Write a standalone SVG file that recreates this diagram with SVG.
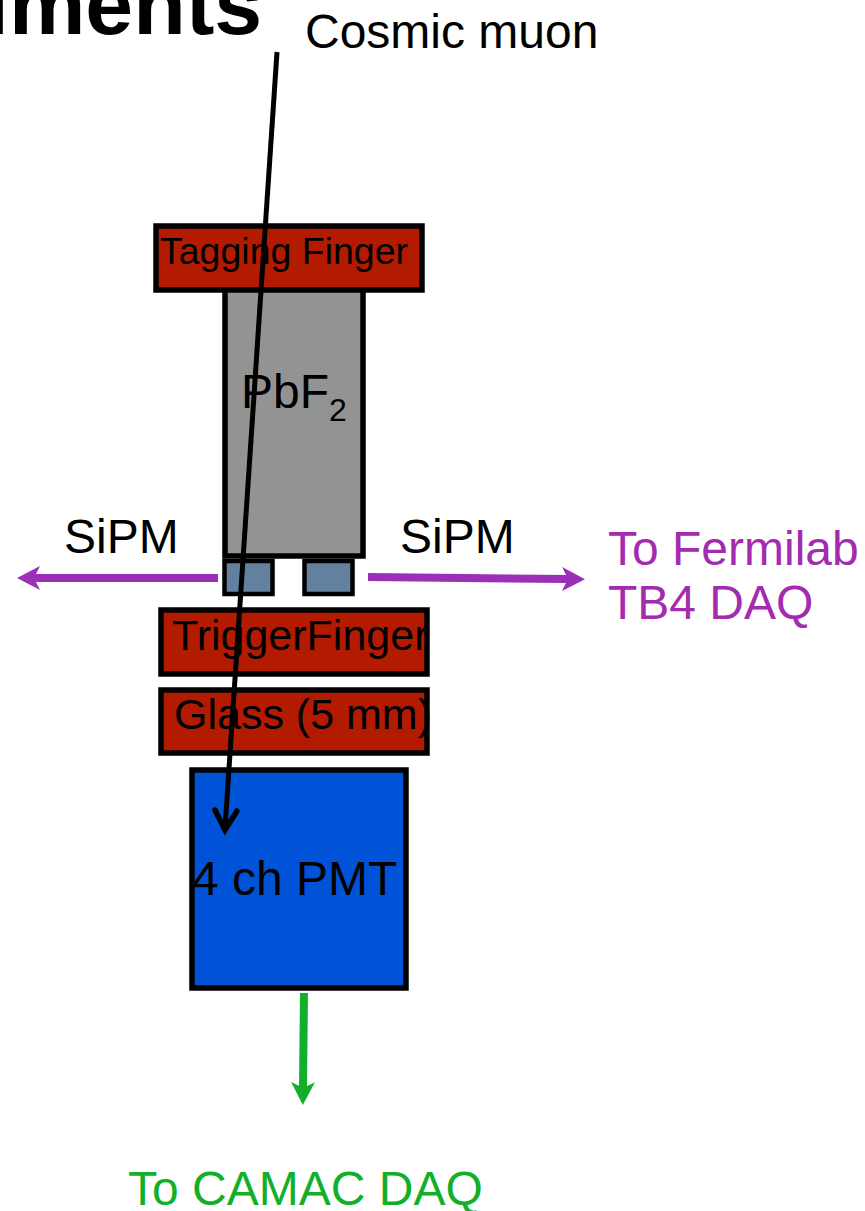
<svg xmlns="http://www.w3.org/2000/svg" width="865" height="1211" viewBox="0 0 865 1211">
<style>
text{font-family:"Liberation Sans",Arial,sans-serif;fill:#000}
.b{fill:none;stroke:#000;stroke-width:5.5}
.t{stroke-width:4.5}
.r{fill:#b31b00}
.s{fill:#64809f}
.l{font-size:48px}
.m{font-size:43px}
.p{fill:#a32bb0}
.g{fill:#12b02a}
</style>
<defs>
<marker id="ap" markerUnits="userSpaceOnUse" markerWidth="26" markerHeight="26" refX="6" refY="12" orient="auto"><path d="M0 0L23 12L0 24L6 12Z" fill="#9c2fb8"/></marker>
<marker id="ag" markerUnits="userSpaceOnUse" markerWidth="26" markerHeight="26" refX="6" refY="12" orient="auto"><path d="M0 0L23 12L0 24L6 12Z" fill="#12b02a"/></marker>
</defs>
<rect width="865" height="1211" fill="#fff"/>
<text x="-15" y="34" style="font-size:86px;font-weight:bold">iments</text>
<text x="305" y="48" class="l">Cosmic muon</text>
<g id="pbf2"><rect x="225" y="285" width="138" height="271" fill="#939393"/><rect class="b" x="225" y="285" width="138" height="271"/><text x="241" y="408" class="l">PbF<tspan font-size="32" dy="13">2</tspan></text></g>
<g id="tagging"><rect class="r" x="156" y="226" width="266" height="64"/><text x="160" y="264" style="font-size:37.5px">Tagging Finger</text><rect class="b" x="156" y="226" width="266" height="64"/></g>
<g id="sipm1"><rect class="s" x="224.5" y="561" width="48" height="33"/><rect class="b t" x="224.5" y="561" width="48" height="33"/></g>
<g id="sipm2"><rect class="s" x="304.5" y="561" width="48" height="33"/><rect class="b t" x="304.5" y="561" width="48" height="33"/></g>
<g id="trigger"><rect class="r" x="161" y="610" width="266" height="64"/><text x="172" y="650" class="m">TriggerFinger</text><rect class="b" x="161" y="610" width="266" height="64"/></g>
<g id="glass"><rect class="r" x="161" y="690" width="266" height="63"/><text x="174" y="729" class="m">Glass (5 mm)</text><rect class="b" x="161" y="690" width="266" height="63"/></g>
<g id="pmt"><rect x="192" y="770" width="214" height="218" fill="#0053d6"/><text x="192" y="895" class="l">4 ch PMT</text><rect class="b" x="192" y="770" width="214" height="218"/></g>
<g id="connectors" fill="none">
<path d="M277 52L225 828" stroke="#000" stroke-width="5"/>
<path d="M215 810L225 830L237 811" stroke="#000" stroke-width="5.5" stroke-linecap="round"/>
<path d="M218 578L34 578" stroke="#9c2fb8" stroke-width="8" marker-end="url(#ap)"/>
<path d="M368 577L568 579" stroke="#9c2fb8" stroke-width="8" marker-end="url(#ap)"/>
<path d="M304 993L303 1088" stroke="#12b02a" stroke-width="8" marker-end="url(#ag)"/>
</g>
<text x="64" y="553" class="l">SiPM</text>
<text x="400" y="553" class="l">SiPM</text>
<text x="608" y="565" class="l p">To Fermilab</text>
<text x="608" y="619" class="l p">TB4 DAQ</text>
<text x="128" y="1205" class="l g">To CAMAC DAQ</text>
</svg>
